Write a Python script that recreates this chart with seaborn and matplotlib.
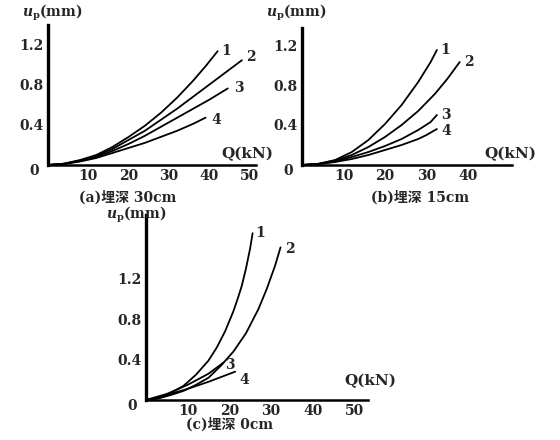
import matplotlib
matplotlib.use("Agg")
import matplotlib.pyplot as plt
import seaborn as sns
import pandas as pd

sns.set_theme(style="white")
plt.rcParams['font.family'] = ['DejaVu Serif', 'Noto Sans CJK SC']
plt.rcParams['font.weight'] = 'bold'
plt.rcParams['mathtext.fontset'] = 'dejavuserif'

# ---- data: Q (kN) and u_p (mm) ----
# (a) 埋深 30cm
a1_q = [0, 4, 8, 12, 16, 20, 24, 28, 32, 36, 39, 42]
a1_u = [0, 0.013, 0.05, 0.10, 0.18, 0.28, 0.39, 0.52, 0.67, 0.84, 0.98, 1.13]
a2_q = [0, 4, 8, 12, 16, 20, 24, 28, 32, 36, 40, 44, 48]
a2_u = [0, 0.013, 0.045, 0.09, 0.16, 0.25, 0.34, 0.45, 0.56, 0.68, 0.80, 0.92, 1.04]
a3_q = [0, 4, 8, 12, 16, 20, 24, 28, 32, 36, 40, 44.5]
a3_u = [0, 0.012, 0.04, 0.08, 0.14, 0.21, 0.29, 0.38, 0.47, 0.56, 0.65, 0.76]
a4_q = [0, 4, 8, 12, 16, 20, 24, 28, 32, 36, 39]
a4_u = [0, 0.01, 0.035, 0.07, 0.12, 0.17, 0.22, 0.28, 0.34, 0.41, 0.47]
# (b) 埋深 15cm
b1_q = [0, 4, 8, 12, 16, 20, 24, 28, 31, 32.5]
b1_u = [0, 0.012, 0.05, 0.13, 0.25, 0.41, 0.60, 0.83, 1.03, 1.15]
b2_q = [0, 4, 8, 12, 16, 20, 24, 28, 32, 35, 38]
b2_u = [0, 0.012, 0.045, 0.10, 0.18, 0.28, 0.40, 0.54, 0.71, 0.86, 1.03]
b3_q = [0, 4, 8, 12, 16, 20, 24, 28, 31, 32.5]
b3_u = [0, 0.01, 0.035, 0.08, 0.13, 0.19, 0.26, 0.35, 0.43, 0.50]
b4_q = [0, 4, 8, 12, 16, 20, 24, 28, 30, 32.5]
b4_u = [0, 0.01, 0.03, 0.06, 0.10, 0.15, 0.20, 0.26, 0.30, 0.36]
# (c) 埋深 0cm
c1_q = [0, 3, 6, 9, 12, 15, 17, 19, 21, 22, 23, 24, 25, 25.6]
c1_u = [0, 0.02, 0.07, 0.14, 0.25, 0.39, 0.52, 0.68, 0.88, 1.00, 1.13, 1.30, 1.50, 1.65]
c2_q = [0, 3, 6, 9, 12, 15, 18, 21, 24, 27, 29, 31, 32.3]
c2_u = [0, 0.015, 0.05, 0.09, 0.15, 0.22, 0.34, 0.48, 0.66, 0.90, 1.10, 1.33, 1.51]
c3_q = [0, 5, 10, 15, 18.6]
c3_u = [0, 0.06, 0.15, 0.26, 0.37]
c4_q = [0, 5, 10, 15, 21.4]
c4_u = [0, 0.05, 0.11, 0.18, 0.28]

curve_names = ["1", "2", "3", "4"]
y_ticks = [0.4, 0.8, 1.2]
y_tick_labels = ["0.4", "0.8", "1.2"]
x_ticks_a = [10, 20, 30, 40, 50]
x_ticks_b = [10, 20, 30, 40]
x_ticks_c = [10, 20, 30, 40, 50]
captions = ["(a)埋深 30cm", "(b)埋深 15cm", "(c)埋深 0cm"]
y_label = r"$u_{\rm p}$(mm)"
x_label = "Q(kN)"


def make_df(qs, us):
    rows = []
    for name, q, u in zip(curve_names, qs, us):
        for qq, uu in zip(q, u):
            rows.append({"Q": qq, "u": uu, "curve": name})
    return pd.DataFrame(rows)


df_a = make_df([a1_q, a2_q, a3_q, a4_q], [a1_u, a2_u, a3_u, a4_u])
df_b = make_df([b1_q, b2_q, b3_q, b4_q], [b1_u, b2_u, b3_u, b4_u])
df_c = make_df([c1_q, c2_q, c3_q, c4_q], [c1_u, c2_u, c3_u, c4_u])

W, H = 560, 440
fig = plt.figure(figsize=(5.6, 4.4), dpi=100)


def px_axes(x0, y_base, x1, y_top):
    return fig.add_axes([x0 / W, (H - y_base) / H, (x1 - x0) / W, (y_base - y_top) / H])


ax_a = px_axes(48, 165, 256, 25)
ax_b = px_axes(302, 165, 512, 28)
ax_c = px_axes(146, 400, 368, 215)

panels = [
    (ax_a, df_a, (0, 51.5), (0, 1.39), x_ticks_a, [(1.0, 0.0), (1.0, 0.03), (1.5, 0.0), (1.5, -0.02)]),
    (ax_b, df_b, (0, 50.6), (0, 1.37), x_ticks_b, [(0.8, 0.0), (1.0, 0.0), (1.0, 0.0), (1.0, -0.02)]),
    (ax_c, df_c, (0, 53.3), (0, 1.83), x_ticks_c, [(0.6, 0.0), (1.0, -0.02), (0.3, -0.02), (1.0, -0.08)]),
]

for ax, df, xl, yl, xt, offs in panels:
    sns.lineplot(data=df, x="Q", y="u", units="curve", estimator=None,
                 color="black", lw=1.3, ax=ax, sort=False, legend=False)
    ax.set_xlim(*xl)
    ax.set_ylim(*yl)
    ax.set_xticks(xt)
    ax.set_xticklabels([str(t) for t in xt], fontsize=10, fontweight="bold")
    ax.set_yticks(y_ticks)
    ax.set_yticklabels(y_tick_labels, fontsize=10, fontweight="bold")
    ax.tick_params(axis="both", length=0, pad=3)
    for s in ["top", "right"]:
        ax.spines[s].set_visible(False)
    ax.spines["left"].set_linewidth(2.4)
    ax.spines["bottom"].set_linewidth(1.8)
    ax.spines["left"].set_color("black")
    ax.spines["bottom"].set_color("black")
    ax.set_xlabel("")
    ax.set_ylabel("")
    ax.set_facecolor("white")
    # origin label
    ax.annotate("0", xy=(0, 0), xycoords="data", xytext=(-10, -4),
                textcoords="offset points", ha="center", va="center",
                fontsize=10, fontweight="bold")
    # curve end labels
    for name, (dx, dy) in zip(curve_names, offs):
        sub = df[df["curve"] == name]
        q_end = sub["Q"].iloc[-1]
        u_end = sub["u"].iloc[-1]
        ax.text(q_end + dx, u_end + dy, name, fontsize=10, fontweight="bold",
                ha="left", va="center")

# axis labels
fig.text(22 / W, 1 - 13 / H, y_label, fontsize=10, fontweight="bold", ha="left", va="center")
fig.text(266 / W, 1 - 13 / H, y_label, fontsize=10, fontweight="bold", ha="left", va="center")
fig.text(106 / W, 1 - 215 / H, y_label, fontsize=10, fontweight="bold", ha="left", va="center")
fig.text(247 / W, 1 - 154 / H, x_label, fontsize=11, fontweight="bold", ha="center", va="center")
fig.text(510 / W, 1 - 154 / H, x_label, fontsize=11, fontweight="bold", ha="center", va="center")
fig.text(370 / W, 1 - 381 / H, x_label, fontsize=11, fontweight="bold", ha="center", va="center")

# captions
fig.text(128 / W, 1 - 198 / H, captions[0], fontsize=10, fontweight="bold", ha="center", va="center")
fig.text(420 / W, 1 - 198 / H, captions[1], fontsize=10, fontweight="bold", ha="center", va="center")
fig.text(230 / W, 1 - 425 / H, captions[2], fontsize=10, fontweight="bold", ha="center", va="center")

fig.savefig("out.png", dpi=100, facecolor="white")
